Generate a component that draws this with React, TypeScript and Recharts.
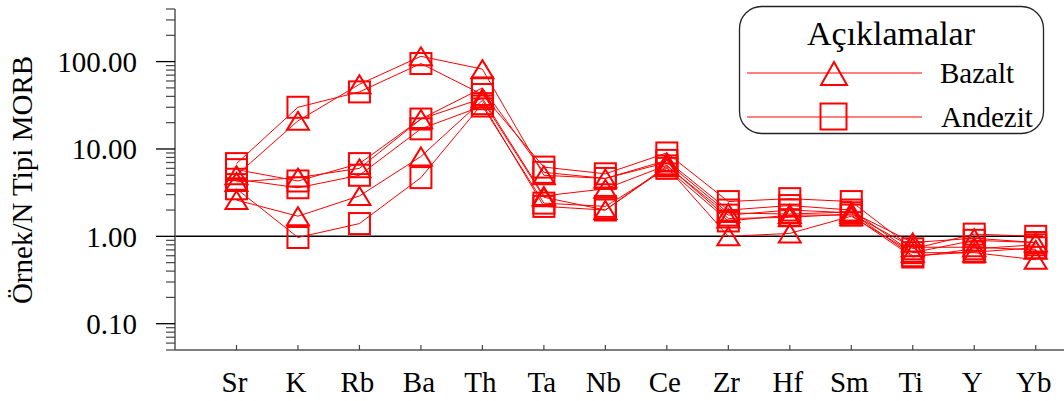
import React from 'react';
import { LineChart, Line, XAxis, YAxis, ReferenceLine } from 'recharts';

const elements = ['Sr', 'K', 'Rb', 'Ba', 'Th', 'Ta', 'Nb', 'Ce', 'Zr', 'Hf', 'Sm', 'Ti', 'Y', 'Yb'];

const bazalt1 = [5.0, 21, 55, 115, 82, 5.0, 4.6, 7.0, 1.85, 1.8, 1.9, 0.85, 0.95, 0.85];
const bazalt2 = [4.2, 4.7, 6.0, 22, 38, 2.9, 3.5, 6.5, 1.6, 1.65, 1.8, 0.75, 0.75, 0.7];
const bazalt3 = [2.6, 1.7, 2.9, 8.2, 36, 2.8, 2.0, 6.2, 1.0, 1.08, 1.7, 0.65, 0.65, 0.54];
const andezit1 = [6.8, 30, 45, 95, 42, 6.2, 5.2, 9.0, 2.5, 2.7, 2.5, 0.72, 1.06, 1.0];
const andezit2 = [5.8, 4.3, 6.8, 22, 50, 5.4, 4.6, 7.4, 2.0, 2.25, 2.0, 0.65, 0.9, 0.85];
const andezit3 = [4.5, 3.6, 5.0, 17, 31, 2.4, 2.2, 6.0, 1.5, 1.75, 1.75, 0.58, 0.72, 0.8];
const andezit4 = [3.5, 0.97, 1.4, 4.7, 33, 2.2, 2.0, 6.4, 1.75, 2.0, 1.86, 0.6, 0.66, 0.74];

const yMajorTicks = [0.1, 1, 10, 100];
const yMinorTicks = [
  0.05, 0.06, 0.07, 0.08, 0.09,
  0.2, 0.3, 0.4, 0.5, 0.6, 0.7, 0.8, 0.9,
  2, 3, 4, 5, 6, 7, 8, 9,
  20, 30, 40, 50, 60, 70, 80, 90,
  200, 300, 400,
];

const seriesList = [
  { key: 'b1', values: bazalt1, shape: 'tri' },
  { key: 'b2', values: bazalt2, shape: 'tri' },
  { key: 'b3', values: bazalt3, shape: 'tri' },
  { key: 'a1', values: andezit1, shape: 'sq' },
  { key: 'a2', values: andezit2, shape: 'sq' },
  { key: 'a3', values: andezit3, shape: 'sq' },
  { key: 'a4', values: andezit4, shape: 'sq' },
];

const data = elements.map((el, i) => {
  const row: any = { x: i, name: el };
  seriesList.forEach((s) => {
    row[s.key] = s.values[i];
  });
  return row;
});

const FONT = "'Liberation Serif', 'Times New Roman', serif";
const RED = '#ff0000';

const makeDot = (shape: string, id: string) => (props: any) => {
  const { cx, cy, index } = props;
  if (cx == null || cy == null) return <g key={`${id}-${index}`} />;
  if (shape === 'tri') {
    const d = `M${cx},${cy - 9} L${cx + 11},${cy + 9} L${cx - 11},${cy + 9} Z`;
    return <path key={`${id}-${index}`} d={d} fill="none" stroke={RED} strokeWidth={2} />;
  }
  return (
    <rect
      key={`${id}-${index}`}
      x={cx - 10.5}
      y={cy - 10.5}
      width={21}
      height={21}
      fill="none"
      stroke={RED}
      strokeWidth={2}
    />
  );
};

const YTick = (props: any) => {
  const { x, y, payload } = props;
  const v = payload.value;
  const major = yMajorTicks.some((m) => Math.abs(m - v) < 1e-9);
  if (major) {
    return (
      <g>
        <line x1={x - 19} x2={x} y1={y} y2={y} stroke="#000" strokeWidth={1.3} />
        <text x={x - 38} y={y} dy="0.36em" textAnchor="end" fontFamily={FONT} fontSize={29} fill="#000">
          {v.toFixed(2)}
        </text>
      </g>
    );
  }
  return <line x1={x - 9} x2={x} y1={y} y2={y} stroke="#444" strokeWidth={1.2} />;
};

const XTick = (props: any) => {
  const { x, y, payload } = props;
  return (
    <g>
      <line x1={x} x2={x} y1={y - 5} y2={y} stroke="#444" strokeWidth={1.2} />
      <text x={x - 2} y={y + 42} textAnchor="middle" fontFamily={FONT} fontSize={29} fill="#000">
        {elements[payload.value]}
      </text>
    </g>
  );
};

const YLabel = () => (
  <text
    x={32}
    y={180}
    transform="rotate(-90 32 180)"
    textAnchor="middle"
    fontFamily={FONT}
    fontSize={29}
    fill="#000"
  >
    Örnek/N Tipi MORB
  </text>
);

const LegendBox = () => (
  <svg
    width={1064}
    height={401}
    style={{ position: 'absolute', left: 0, top: 0, pointerEvents: 'none' }}
  >
    <rect x={739.5} y={6.5} width={304} height={127} rx={22} ry={22} fill="#fff" stroke="#222" strokeWidth={1.3} />
    <text x={891} y={45} textAnchor="middle" fontFamily={FONT} fontSize={34} fill="#000">
      Açıklamalar
    </text>
    <line x1={747} x2={922} y1={73} y2={73} stroke={RED} strokeWidth={1} />
    <path d="M834,62 L847,85 L821,85 Z" fill="none" stroke={RED} strokeWidth={2} />
    <text x={940} y={83} fontFamily={FONT} fontSize={29} fill="#000">
      Bazalt
    </text>
    <line x1={747} x2={922} y1={117} y2={117} stroke={RED} strokeWidth={1} />
    <rect x={820.5} y={103.5} width={26} height={26} fill="none" stroke={RED} strokeWidth={2} />
    <text x={941} y={127} fontFamily={FONT} fontSize={29} fill="#000">
      Andezit
    </text>
  </svg>
);

export default function App() {
  return (
    <div style={{ position: 'absolute', left: 0, top: 0, width: 1064, height: 401, background: '#fff' }}>
      <LineChart width={1064} height={401} data={data} margin={{ top: 9, right: 0, bottom: 0, left: 0 }}>
        <XAxis
          type="number"
          dataKey="x"
          domain={[-1, 13.46]}
          allowDataOverflow
          ticks={elements.map((_, i) => i)}
          interval={0}
          height={51}
          tickSize={0}
          tickMargin={0}
          tick={<XTick />}
          axisLine={{ stroke: '#555', strokeWidth: 1.5 }}
        />
        <YAxis
          type="number"
          scale="log"
          domain={[0.05, 400]}
          allowDataOverflow
          ticks={[...yMinorTicks, ...yMajorTicks].sort((a, b) => a - b)}
          interval={0}
          width={175}
          tickSize={0}
          tickMargin={0}
          tick={<YTick />}
          axisLine={{ stroke: '#555', strokeWidth: 1.5 }}
          label={<YLabel />}
        />
        <ReferenceLine
          segment={[
            { x: -1, y: 1 },
            { x: 13.12, y: 1 },
          ]}
          stroke="#000"
          strokeWidth={1.5}
        />
        {seriesList.map((s) => (
          <Line
            key={s.key}
            dataKey={s.key}
            type="linear"
            stroke={RED}
            strokeWidth={1}
            dot={makeDot(s.shape, s.key)}
            activeDot={false}
            isAnimationActive={false}
          />
        ))}
      </LineChart>
      <LegendBox />
    </div>
  );
}
